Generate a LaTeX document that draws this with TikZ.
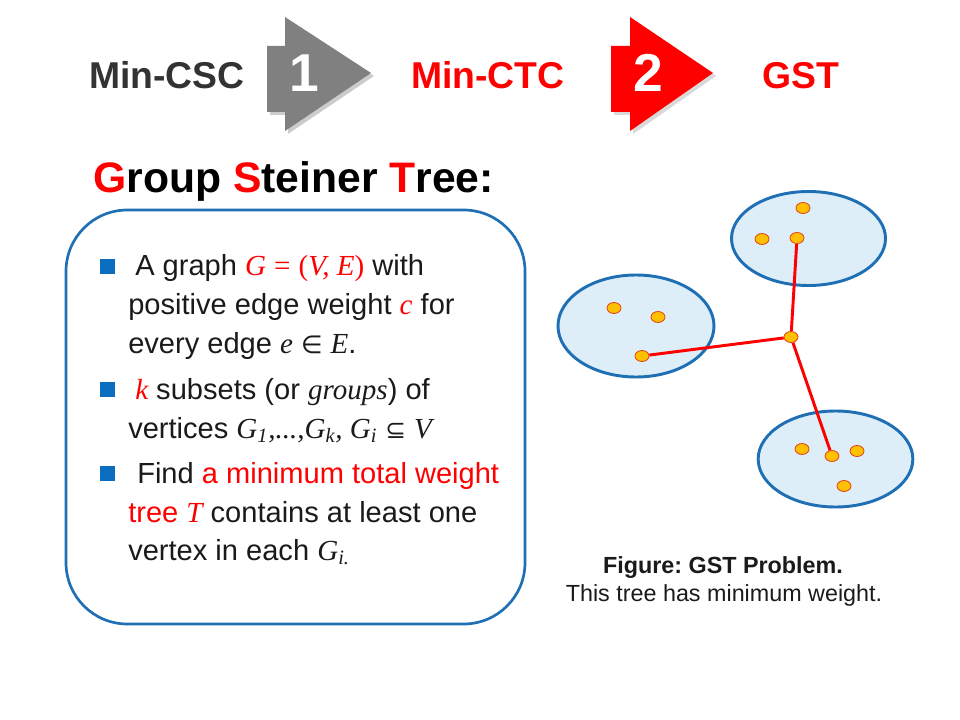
\documentclass[tikz,border=0pt]{standalone}
\usepackage{fontspec}
\setmainfont{Liberation Sans}
\newfontfamily\mathserif{Liberation Serif}
\newfontfamily\symbfont[Scale=0.85]{DejaVu Sans}
\usetikzlibrary{shapes.geometric}
\frenchspacing

\definecolor{slidered}{HTML}{FF0000}
\definecolor{stepgray}{HTML}{808080}
\definecolor{headgray}{HTML}{333333}
\definecolor{boxblue}{HTML}{1F6FB5}
\definecolor{bulletblue}{HTML}{0A6EC0}
\definecolor{grpfill}{HTML}{DEEEF8}
\definecolor{vtxfill}{HTML}{FFC000}
\definecolor{vtxline}{HTML}{E0401A}
\definecolor{bodyblack}{HTML}{1A1A1A}

\newcommand{\mv}[1]{{\mathserif\itshape #1}}
\newcommand{\mup}[1]{{\mathserif #1}}

\begin{document}
\begin{tikzpicture}[
    x=0.75pt, y=-0.75pt,
    % define styles
    stephead/.style={
        font=\fontsize{28}{32}\selectfont\bfseries,
        anchor=base west,
        inner sep=0pt
    },
    stepnum/.style={
        font=\fontsize{40}{44}\selectfont\bfseries,
        text=white,
        anchor=base,
        inner sep=0pt
    },
    bodyline/.style={
        font=\fontsize{21.8}{26}\selectfont,
        text=bodyblack,
        anchor=base west,
        inner sep=0pt
    },
    bulletsq/.style={
        fill=bulletblue,
        minimum size=11.25pt,
        inner sep=0pt
    },
    group/.style={
        ellipse,
        draw=boxblue,
        fill=grpfill,
        line width=2.2pt,
        inner sep=0pt
    },
    vertex/.style={
        ellipse,
        draw=vtxline,
        fill=vtxfill,
        line width=0.6pt,
        minimum width=10.5pt,
        minimum height=8.25pt,
        inner sep=0pt
    },
    treeedge/.style={
        draw=slidered,
        line width=2.2pt
    },
    caption/.style={
        font=\fontsize{17.5}{20}\selectfont,
        text=bodyblack,
        anchor=base,
        inner sep=0pt
    }
]
\useasboundingbox (0,0) rectangle (960,720);

% Step arrows at the top
\fill[black!20] (270,49) -- (288,49) -- (288,20) -- (374,76) -- (288,134) -- (288,115) -- (270,115) -- cycle;
\fill[stepgray] (267,46) -- (285,46) -- (285,17) -- (371,73) -- (285,131) -- (285,112) -- (267,112) -- cycle;
\fill[black!15] (614,49) -- (633,49) -- (633,20) -- (716,76) -- (633,134) -- (633,115) -- (614,115) -- cycle;
\fill[slidered] (611,46) -- (630,46) -- (630,17) -- (713,73) -- (630,131) -- (630,112) -- (611,112) -- cycle;
\node[stepnum] (num1) at (304,92) {1};
\node[stepnum] (num2) at (648,92) {2};

\node[stephead, text=headgray] (mincsc) at (89,89) {Min-CSC};
\node[stephead, text=slidered] (minctc) at (411,89) {Min-CTC};
\node[stephead, text=slidered] (gst) at (762,89) {GST};

% Title
\node[anchor=base west, inner sep=0pt, font=\fontsize{32}{36}\selectfont\bfseries] (title) at (93,193)
    {\textcolor{slidered}{G}roup \textcolor{slidered}{S}teiner \textcolor{slidered}{T}ree:};

% Definition box
\draw[boxblue, line width=2pt, rounded corners=46pt] (66,210) rectangle (525,624);

\node[bulletsq] (b1) at (107,266.5) {};
\node[bulletsq] (b2) at (107,389.5) {};
\node[bulletsq] (b3) at (107,473.5) {};

\node[bodyline] (l1) at (135,276) {A graph \textcolor{slidered}{\mv{G} \mup{=} \mup{(}\mv{V, E}\mup{)}} with};
\node[bodyline] (l2) at (128,315) {positive edge weight \textcolor{slidered}{\mv{c}} for};
\node[bodyline] (l3) at (128,353) {every edge \mv{e} {\symbfont ∈} \mv{E}.};
\node[bodyline] (l4) at (135,399) {\textcolor{slidered}{\mv{k}} subsets (or \mv{groups}) of};
\node[bodyline] (l5) at (128,438) {vertices \mv{G\textsubscript{1},...,G\textsubscript{k}, G\textsubscript{i}} {\symbfont ⊆} \mv{V}};
\node[bodyline] (l6) at (137,483) {Find \textcolor{slidered}{a minimum total weight}};
\node[bodyline] (l7) at (128,522) {\textcolor{slidered}{tree \mv{T}} contains at least one};
\node[bodyline] (l8) at (128,560) {vertex in each \mv{G\textsubscript{i.}}};

% Groups
\node[group, minimum width=115.5pt, minimum height=70.5pt] (grptop) at (808.5,238.5) {};
\node[group, minimum width=117pt, minimum height=76.5pt] (grpleft) at (636,326) {};
\node[group, minimum width=116pt, minimum height=72pt] (grpbot) at (835.5,459) {};

% Vertices
\node[vertex] (t1) at (803,208) {};
\node[vertex] (t2) at (762,239) {};
\node[vertex] (t3) at (797,238) {};
\node[vertex] (p1) at (614,308) {};
\node[vertex] (p2) at (658,317) {};
\node[vertex] (p3) at (642,356) {};
\node[vertex] (s)  at (791,337) {};
\node[vertex] (q1) at (802,449) {};
\node[vertex] (q2) at (832,456) {};
\node[vertex] (q3) at (857,451) {};
\node[vertex] (q4) at (844,486) {};

% Tree edges
\draw[treeedge] (t3) -- (s);
\draw[treeedge] (p3) -- (s);
\draw[treeedge] (s) -- (q2);

% Caption
\node[caption, font=\fontsize{17.5}{20}\selectfont\bfseries] (cap1) at (723,573) {Figure: GST Problem.};
\node[caption] (cap2) at (724,601) {This tree has minimum weight.};
\end{tikzpicture}
\end{document}
